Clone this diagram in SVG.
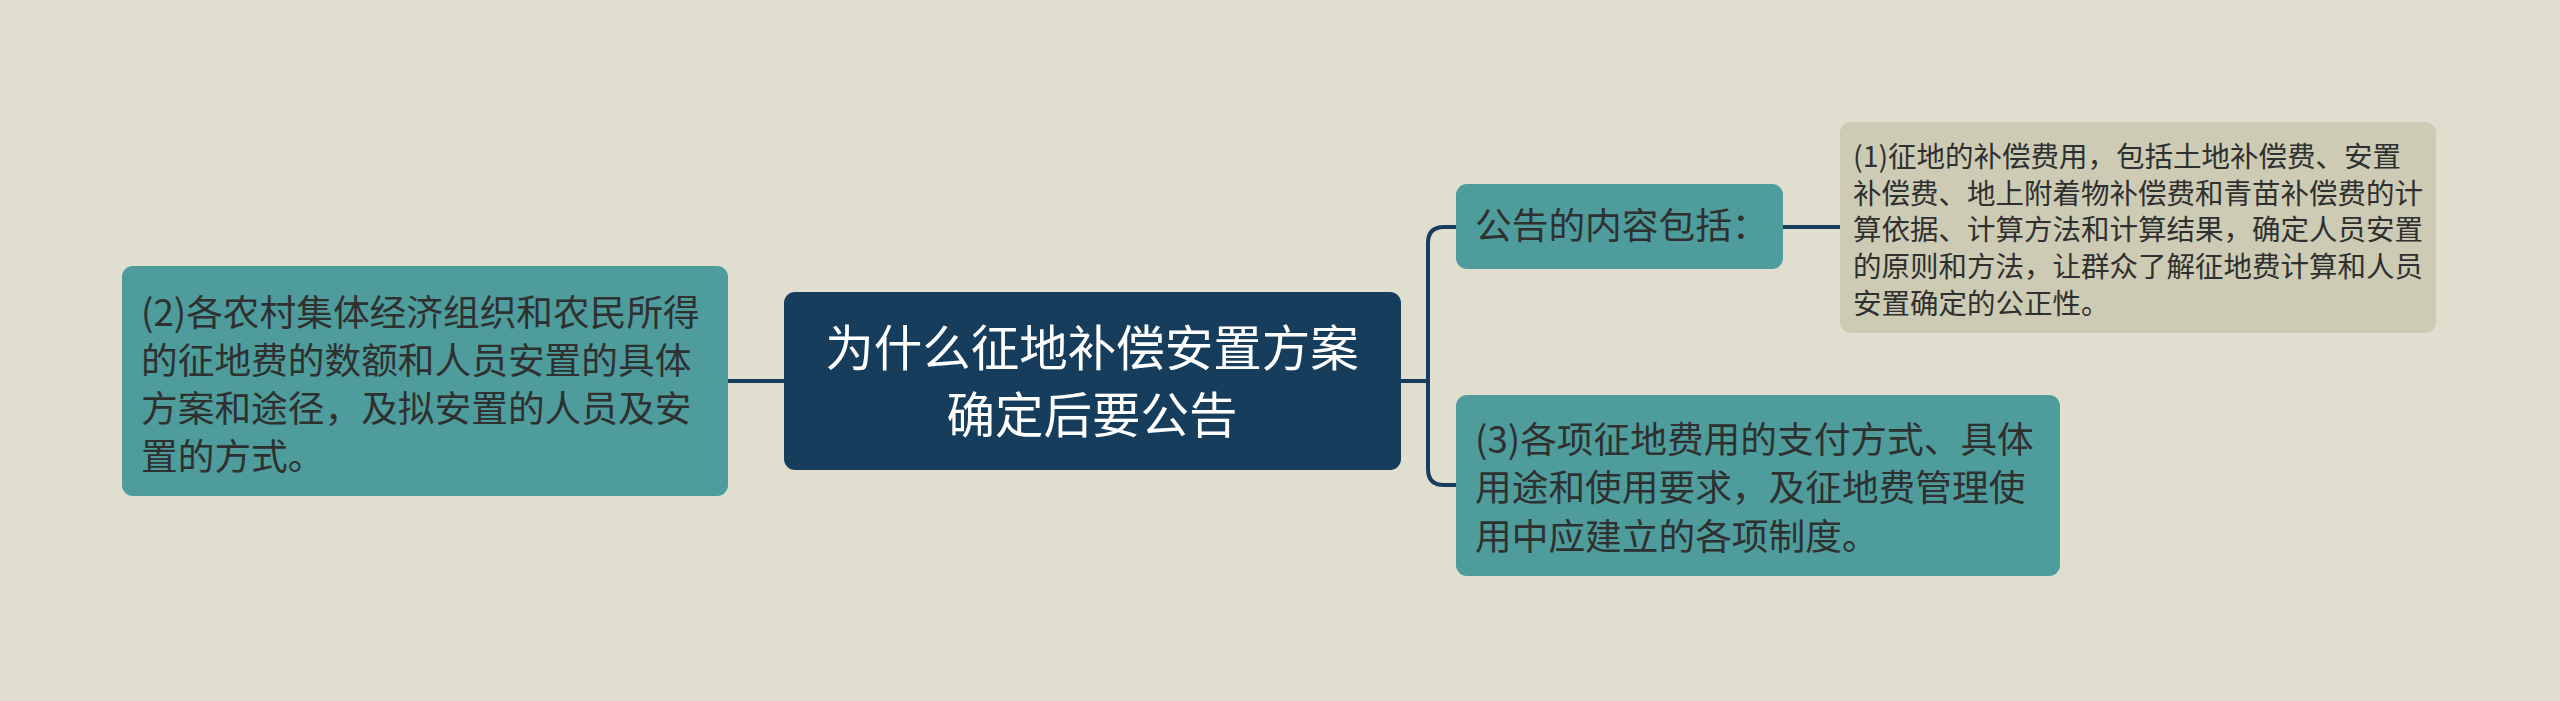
<svg xmlns="http://www.w3.org/2000/svg" width="2560" height="701" viewBox="0 0 2560 701">
<style>
.t{font-family:"Noto Sans CJK SC","Noto Sans",sans-serif;fill:#2f3030;}
.tw{font-family:"Noto Sans CJK SC","Noto Sans",sans-serif;fill:#ffffff;}
.teal{fill:#4e9c9c;}
.link{fill:none;stroke:#173d5c;stroke-width:4;}
</style>
<rect x="0" y="0" width="2560" height="701" fill="#dfdecf"/>
<g id="connectors">
<path class="link" d="M728 381 H784"/>
<path class="link" d="M1401 381 H1428"/>
<path class="link" d="M1456 227 H1444 Q1428 227 1428 243 V469 Q1428 485 1444 485 H1456"/>
<path class="link" d="M1783 227 H1840"/>
</g>
<g id="center">
<rect x="784" y="292" width="617" height="178" rx="11" fill="#173d5c"/>
<text class="tw" font-size="48.5" text-anchor="middle"><tspan x="1092" y="366">为什么征地补偿安置方案</tspan><tspan x="1092" y="433">确定后要公告</tspan></text>
</g>
<g id="left">
<rect class="teal" x="122" y="266" width="606" height="230" rx="11"/>
<text class="t" font-size="36.7"><tspan x="141" y="326">(2)各农村集体经济组织和农民所得</tspan><tspan x="141" y="374">的征地费的数额和人员安置的具体</tspan><tspan x="141" y="422">方案和途径，及拟安置的人员及安</tspan><tspan x="141" y="470">置的方式。</tspan></text>
</g>
<g id="n1">
<rect class="teal" x="1456" y="184" width="327" height="85" rx="11"/>
<text class="t" font-size="36.7"><tspan x="1475" y="239">公告的内容包括：</tspan></text>
</g>
<g id="n3">
<rect class="teal" x="1456" y="395" width="604" height="181" rx="11"/>
<text class="t" font-size="36.7"><tspan x="1475" y="453">(3)各项征地费用的支付方式、具体</tspan><tspan x="1475" y="501">用途和使用要求，及征地费管理使</tspan><tspan x="1475" y="550">用中应建立的各项制度。</tspan></text>
</g>
<g id="n1a">
<rect x="1840" y="122" width="596" height="211" rx="11" fill="#cdcbb4"/>
<text class="t" font-size="28.5"><tspan x="1853" y="167">(1)征地的补偿费用，包括土地补偿费、安置</tspan><tspan x="1853" y="204">补偿费、地上附着物补偿费和青苗补偿费的计</tspan><tspan x="1853" y="240">算依据、计算方法和计算结果，确定人员安置</tspan><tspan x="1853" y="277">的原则和方法，让群众了解征地费计算和人员</tspan><tspan x="1853" y="314">安置确定的公正性。</tspan></text>
</g>
</svg>
